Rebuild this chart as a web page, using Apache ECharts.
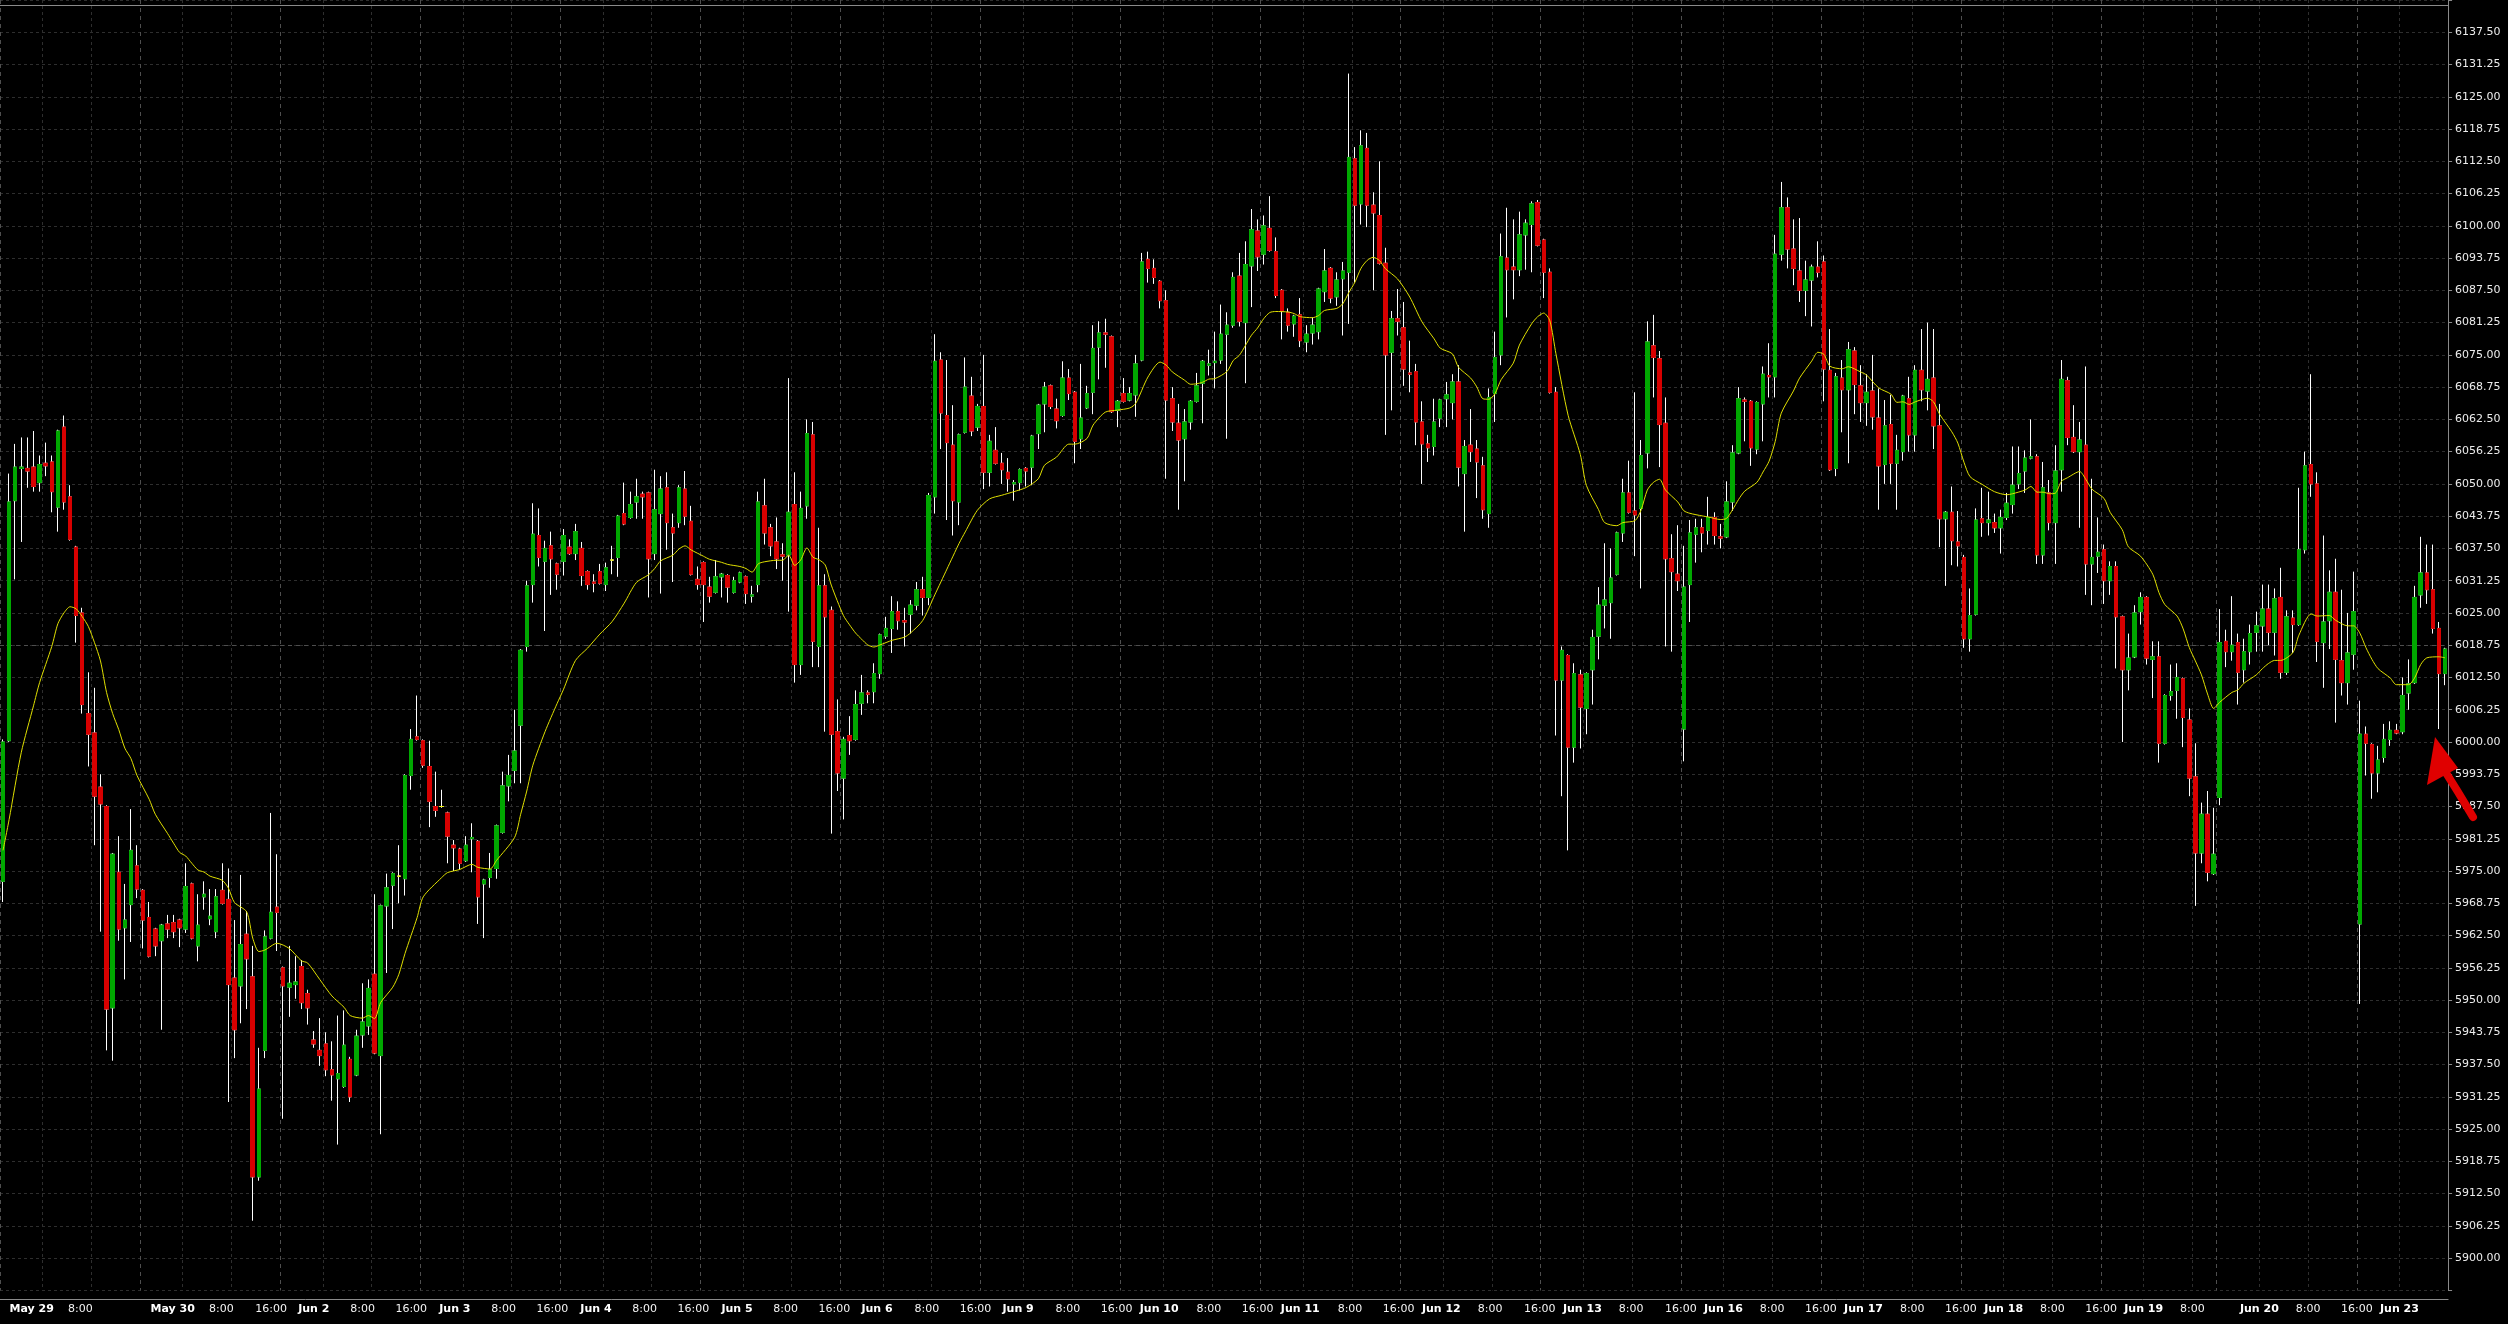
<!DOCTYPE html>
<html><head><meta charset="utf-8">
<script src="https://cdn.jsdelivr.net/npm/echarts@6/dist/echarts.min.js"></script>
<style>html,body{margin:0;padding:0;background:#000;}#c{width:2508px;height:1324px;}</style>
</head><body><div id="c"></div>
<script>
// ---------- session calendar (hourly bars) ----------
const tradingDays = ['May 29','May 30','Jun 2','Jun 3','Jun 4','Jun 5','Jun 6','Jun 9','Jun 10','Jun 11','Jun 12','Jun 13','Jun 16','Jun 17','Jun 18','Jun 19','Jun 20','Jun 23'];
const sessionOpenDates = ['May 28','May 29','Jun 1','Jun 2','Jun 3','Jun 4','Jun 5','Jun 8','Jun 9','Jun 10','Jun 11','Jun 12','Jun 15','Jun 16','Jun 17','Jun 18','Jun 19','Jun 22'];
const eveningHours = [16,17,18,19,20,21,22];
const dayHoursRegular = [0,1,2,3,4,5,6,7,8,9,10,11,12,13,14,15];
const dayHoursShort = {'Jun 19':[0,1,2,3,4,5,6,7,8,9,10,11], 'Jun 23':[0,1,2,3,4,5,6,7]};
const unlabeledOpens = ['May 28','May 29','Jun 19'];
const hourTickLabels = {8:'8:00', 16:'16:00'};

// ---------- OHLC values ----------
const open = [
5973,6000.25,6046.75,6053,6053,6053.25,6050.25,6054,6054.25,6045.5,
6061,6047.5,6037.75,6025,6005.5,6001.75,5991.25,5987.5,5948.5,5974.75,
5964,5968.5,5976,5971.25,5966,5963.75,5961.5,5964.75,5965,5965.5,
5963.75,5972.5,5960.5,5970,5965.75,5963.25,5971.25,5969.5,5954.25,5952.75,
5962.75,5954.5,5915.75,5940.25,5962,5968,5956.25,5952.5,5953,5956.5,
5951.25,5942.25,5940.25,5941.5,5936.5,5934.75,5933.25,5938.5,5935.5,5943.25,
5945,5955,5939.25,5968.25,5972.25,5974,5973.5,5993.5,6001,6000.25,
5995.25,5987.5,5987.5,5986.25,5980,5979.25,5977,5981.25,5980.75,5972.5,
5973.75,5975.5,5982.5,5991.5,5994.5,6003.25,6018.5,6030.5,6040,6035,
6038,6034.5,6035,6037.75,6036.5,6037.5,6033,6031,6033,6030.5,
6035.25,6035.75,6044.25,6043.5,6046.5,6048,6048.25,6036.5,6044.25,6049.25,
6041.5,6042.5,6049,6042.75,6031.5,6034.75,6030,6029,6032,6032.25,
6029,6031,6032,6028.25,6030.5,6045.75,6041.5,6038.75,6036.25,6036.25,
6046,6015,6045.75,6059.5,6018.5,6030.25,6025.5,6002,5993,6001.25,
6000.5,6007.5,6009.5,6009.75,6013.25,6020.5,6022,6025.25,6023.5,6024.75,
6026.5,6029.5,6028,6047.5,6074,6063.25,6057.5,6046.5,6060,6067,
6061,6065,6052.25,6056.5,6054,6052.25,6050,6050.25,6053,6053.25,
6059.75,6065.5,6069,6064.5,6063.25,6070.5,6067.75,6058.75,6064.75,6067.75,
6076.5,6079.25,6078.5,6064.25,6067.5,6066.25,6067.25,6074,6093.5,6091.75,
6089.25,6085.5,6066.5,6061.75,6058.75,6062,6066,6069.5,6073,6073.5,
6074,6079,6080.75,6090.25,6081.25,6092.25,6099,6094.5,6099.5,6095,
6087.5,6083.25,6081,6082.75,6077.5,6079.25,6079.5,6087.25,6091.75,6086.25,
6089.75,6091,6113,6104.25,6115,6104,6102,6092.75,6075.5,6082,
6080.25,6071.5,6071.75,6062,6057.75,6057.25,6062.75,6066.5,6065.75,6069.75,
6052,6057.5,6056.75,6053.5,6044.25,6067.5,6075,6093.75,6092,6091.5,
6098.25,6100.25,6104.5,6097.25,6091,6067.75,6012,6016.75,5999,6013,
6006.5,6014,6020.5,6026.5,6027,6032.5,6040.5,6048.25,6044.75,6045.25,
6056,6076.75,6074.25,6061.75,6035.5,6032.5,6002.5,6030.5,6040.25,6041.5,
6041,6043.5,6039.75,6039.75,6046.5,6056,6066.25,6066,6056.75,6065.5,
6071,6070.75,6094.5,6103.5,6095.5,6091.25,6087.5,6089.5,6092,6093,
6072,6053,6070.5,6068.25,6075.75,6069,6065.75,6068,6062.75,6053.75,
6061.5,6054,6056.25,6066.5,6059.5,6072,6068,6070.5,6061.25,6043.25,
6044.5,6038.75,6035.75,6020,6024.75,6043.25,6042.5,6042.5,6041.5,6043.5,
6046,6050,6052.5,6055,6055.25,6036.25,6048.25,6042.5,6052.75,6070,
6059,6056.25,6057.5,6034.5,6036,6037.25,6031.25,6034,6024.25,6014,
6016.5,6025.25,6028,6016,6016.5,5999.75,6009,6010,6012.25,6004.25,
5993.25,5978.5,5986,5974.5,5989.25,6019.5,6017.5,6019.25,6014,6017.5,
6021.25,6022.5,6025.75,6021.25,6028,6013.5,6024,6022.75,6037.25,6053.75,
6050,6019.25,6023.5,6029,6015.75,6011.5,6017,5964.75,6001.5,5999.5,
5994,5997,6000.5,6002.25,6002,6009.5,6011.5,6028.5,6032.75,6029.5,
6022,6013.25];
const close = [
6000,6046.5,6053.25,6053.25,6052.5,6049.5,6053.75,6053.5,6048.5,6060.25,
6046.5,6039.25,6024.5,6007.25,6001.5,5989.5,5988,5948.25,5978.25,5963.75,
5965.5,5979,5971.5,5965.5,5958.5,5960.5,5964.5,5963.75,5963.25,5964,
5972,5962,5964.5,5970.5,5966.25,5970,5968.75,5953,5944.25,5960.75,
5958,5915.75,5932.75,5962.25,5967,5967,5952.75,5953.25,5953.5,5949.5,
5948.5,5941.5,5939.25,5936.5,5935.5,5935.75,5941.25,5931.25,5943,5945.75,
5952.25,5939.75,5968.25,5971.75,5974.5,5974,5993.5,6000.5,6000.5,5995.5,
5988.5,5986.75,5987.5,5981.75,5979.5,5976.5,5980,5981.5,5970,5973.25,
5975.25,5983.75,5991.5,5993.5,5998.25,6017.75,6030.25,6040.25,6035.75,6037.5,
6035.5,6032.5,6040,6036.5,6040.75,6032.25,6030.5,6030.75,6030.75,6033.75,
6035.25,6043.75,6042.25,6046,6047.5,6047.5,6035.5,6045,6049,6042.5,
6040.5,6049.25,6043.75,6032.5,6030.5,6030.5,6028.25,6032,6032.5,6030,
6031.25,6032.75,6028.75,6028.5,6046.5,6040.5,6038,6035.5,6036,6044.5,
6015,6045.25,6059.75,6019.5,6030.25,6024.25,6001.5,5994,6000.5,6000.25,
6007.25,6009.5,6009.25,6013.25,6020.75,6022,6025.25,6023.5,6023.25,6026.5,
6029.5,6028,6047.75,6073.75,6063.75,6058,6046.75,6059.5,6068.75,6060.25,
6065,6052.25,6058.25,6054,6052.75,6051,6050.25,6052.75,6052.5,6059.25,
6065.25,6068.75,6065,6062.25,6070.5,6067.5,6058.25,6062.75,6067.5,6076.25,
6079.25,6079,6064,6066,6066,6067.5,6073.25,6093,6091.75,6090,
6085.5,6066.25,6062,6058.5,6062,6066,6069,6073.75,6073.25,6073.75,
6079,6080.75,6090,6081.5,6092.5,6099.25,6094,6100,6095.25,6086.5,
6083.5,6080.75,6082.5,6077.75,6079,6080.75,6087.75,6091.25,6086,6089.5,
6091.25,6113.25,6104,6115.5,6104,6102.5,6092.75,6075,6082,6081.5,
6072.25,6071.25,6062,6057.75,6057,6062,6066.25,6067.25,6069.75,6053.25,
6057.25,6056.25,6054.25,6045,6066.75,6074.5,6094,6091.5,6091.5,6098.25,
6100.5,6104.25,6096.25,6091,6067.75,6012,6017.75,5999,6013.25,6006.75,
6013.25,6020.25,6026.5,6027.5,6031.75,6040.5,6048.25,6044.5,6044,6055.5,
6077.5,6074.5,6061.5,6035.5,6033,6031.25,6030,6040.5,6041.5,6040.5,
6043.5,6040,6039.5,6046.5,6056,6066.5,6066,6057,6065.75,6071.25,
6070.75,6094.5,6103.5,6095.5,6091.75,6087.5,6089.5,6092,6091,6072.25,
6052.75,6070.75,6068.25,6076,6069.25,6065.75,6067.75,6063,6053.5,6061.25,
6054,6056.5,6067,6059.5,6072,6068.25,6070.25,6061.25,6043.25,6044.5,
6039,6038,6020,6024.5,6043,6042.5,6043,6041.5,6043.5,6046.25,
6049.75,6052,6055,6055.25,6036.25,6049.25,6042.5,6052.5,6070.25,6059,
6056.25,6058.5,6034.5,6035.75,6036.75,6031.25,6034,6024.25,6014,6016.25,
6025,6028,6016.25,6016.5,5999.75,6009,6009.75,6012.5,6004.75,5993,
5978.5,5986,5974.75,5978.25,6019.25,6017.5,6018.75,6013.5,6017.5,6021,
6022.5,6025.75,6021.25,6027.75,6013.5,6024.25,6022.75,6037.25,6053.5,6050,
6019.5,6023.25,6029,6016,6011.5,6017.25,6025.25,6001.5,5999.75,5994,
5996.5,6000.5,6002.25,6001.75,6009,6011.25,6028,6032.75,6029.5,6022,
6013.25,6018];
const low = [
5969,6000,6031.5,6038.75,6049.25,6048.5,6048.5,6051.5,6044.5,6040.75,
6045,6039,6019.25,6005.5,5995.25,5980,5963.25,5940.25,5938.25,5961.5,
5954,5961.25,5969.75,5960,5958.25,5958.5,5944.25,5962,5962,5960.25,
5963,5961.75,5957.5,5967.5,5964.5,5962,5968.5,5930.25,5938.75,5945.5,
5948.25,5907.25,5915,5938.75,5961.75,5959.5,5927,5946.75,5950.25,5948.25,
5945.25,5940.75,5937.25,5935.25,5930.5,5922,5933,5930.25,5935.25,5940.75,
5943.25,5939.5,5924,5955.25,5963.75,5968.75,5970.25,5990.75,6000.25,5995,
5983.5,5985.5,5987.25,5976.5,5975,5975.25,5976.75,5974.75,5964.75,5962,
5971.75,5973.5,5982.25,5988.5,5992,5992,6017.5,6027,6034,6021.5,
6028.5,6029.5,6032.25,6036.25,6035.25,6030.25,6029.5,6029,6030.5,6029.25,
6032.5,6032,6042,6043.25,6043.25,6043.25,6028,6035.25,6028.75,6037.25,
6031,6041.5,6042,6032.25,6029.5,6023.25,6027,6028.75,6028,6027,
6028.75,6030.75,6026.75,6027,6029,6038.25,6036,6033.5,6031.25,6025.25,
6011.5,6013,6043.25,6014.5,6014.5,6002,5982.25,5990.5,5985,5997.5,
6000.25,6005.25,6007.5,6007.5,6012.25,6020,6017.25,6021.75,6018.5,6021,
6025.5,6024.5,6026.5,6044.25,6056.75,6043,6040,6042,6059.75,6059.25,
6060.25,6049,6049.5,6053.75,6050,6048.5,6046.75,6048.75,6049.5,6049.75,
6056.75,6060,6064.5,6060.75,6063,6066.25,6054,6056.75,6064.5,6063.5,
6070.25,6072.5,6063.75,6061,6065.75,6066,6063,6073.75,6089,6088.75,
6084,6051,6060.25,6045,6050.5,6060.5,6065.75,6061.75,6071,6068.5,
6073.25,6058.75,6080.25,6080.5,6069.5,6084.25,6091.25,6092.5,6095,6086,
6078,6079.5,6078.5,6076.5,6075.5,6077,6078,6085.25,6085,6084.5,
6078.75,6081,6089,6100.25,6099.75,6087.5,6092.5,6059.5,6064.25,6078.75,
6069,6067.75,6057.5,6050,6054.25,6055.5,6061,6061,6062.5,6049.5,
6040.75,6054.25,6047.25,6043.25,6041.5,6062,6073,6082.25,6085.75,6090.25,
6091.5,6091,6096,6086,6067.5,6001.25,5989.5,5979,5996,5998.75,
6001.5,6007.25,6016,6022,6020,6032.25,6038.75,6044.25,6036,6029.75,
6053,6066.75,6053.25,6018.5,6017.5,6029.25,5996.25,6023.25,6034.75,6036.75,
6038.25,6038.25,6037.5,6039.5,6044.75,6055.75,6058.25,6053.5,6055.75,6058.25,
6066.75,6066.75,6093.25,6091.75,6088.5,6085.25,6082.5,6080.5,6090,6066,
6052.5,6051.5,6060,6054,6063.5,6062,6061.25,6060.5,6045,6050,
6050,6045,6054.5,6056.25,6056.25,6066,6064.25,6056.75,6037.75,6030.25,
6034.25,6034,6018.25,6017.5,6024.5,6039.75,6040,6040.5,6036.5,6043,
6044.25,6049,6048.25,6054.75,6034.5,6034.5,6041,6034.5,6048.5,6057.5,
6056,6041.5,6028.5,6026.5,6032.75,6026.75,6028.5,6014.25,6000,6010,
6016.25,6022.75,6015,6008.5,5996,5999.5,6008,6004.5,5999,5989.5,
5968.25,5976.5,5973,5974.25,5987.75,6014.5,6015.75,6007.25,6011.5,6015,
6017.5,6017.5,6018.75,6016.75,6012.25,6013,6017.25,6022.5,6036.5,6047.5,
6015.5,6010.5,6018,6003.75,6009,6007.25,6014,5949.25,5993.5,5989,
5990.25,5996,5999.25,6001.5,6001.5,6006.25,6011.25,6026,6026.75,6021,
6002.5,6011];
const high = [
6000.5,6052,6057.75,6059,6059,6060.25,6055.5,6058,6055.5,6060.5,
6063.25,6049.75,6038,6026,6013.5,6010.5,5993.75,5987.75,5978.5,5981.75,
5972.5,5987,5980,5971.5,5969,5964,5964.75,5966.5,5966.5,5965.75,
5976.5,5972.75,5970.5,5973,5971.5,5971.5,5976.5,5975.5,5965.5,5974.25,
5967.25,5960.5,5940.75,5963.5,5986.25,5978.25,5956.5,5960.5,5958.5,5957.75,
5952,5944,5946.5,5943.75,5942,5947,5948,5939,5944.25,5953.25,
5954,5970.5,5968.5,5974.5,5974.75,5980,5993.75,6002.5,6009,6000.5,
6000.25,5994.25,5990.75,5986.5,5981,5979.5,5981.75,5984.25,5981,5973.5,
5978.5,5984,5994.25,5997.5,6006.25,6018,6031.25,6046.25,6045.25,6039,
6040.75,6034.75,6041.25,6039.25,6042.25,6038.75,6033.25,6032.5,6034.5,6034.75,
6038,6044,6050.25,6048.5,6051,6048.5,6048.5,6052.75,6051.5,6052.25,
6044.25,6049.75,6052.5,6045.75,6034,6035,6032,6035.25,6032.75,6032.5,
6032,6033,6032.25,6030.25,6048.5,6051,6042.25,6043.5,6038.5,6070.5,
6052.25,6048.5,6062.5,6062,6041.5,6032.5,6026.25,6008.25,6001,6005,
6010,6013,6010,6015.25,6021,6024.25,6028.25,6027.25,6026,6027.5,
6031,6032,6048.25,6079,6075.5,6074,6065.25,6059.75,6074.5,6070.75,
6065.5,6075,6059.5,6061,6056,6055,6050.75,6053,6053.25,6059.5,
6065.5,6069.75,6069.25,6066.5,6073.75,6072.25,6068,6073.25,6069,6080.75,
6081.5,6082,6078.75,6066.25,6070.5,6068.75,6075,6094.75,6095,6093.5,
6089.5,6087.5,6068.75,6065.5,6064.5,6066.25,6071.5,6074,6076,6079.5,
6084.75,6083.25,6091,6094.75,6097,6103.25,6101.25,6102,6105.75,6097.75,
6087.75,6084,6082.75,6086,6080.75,6082.25,6088,6095.5,6092,6091,
6093,6129.5,6115.25,6118.5,6118,6106.5,6112.5,6095.75,6083.5,6087.75,
6085.25,6077.75,6073.25,6066,6059.5,6066.5,6066.5,6069.75,6071.25,6073,
6058.5,6064.5,6058.5,6055.25,6068.5,6079.5,6098.5,6103.5,6101.25,6102.75,
6101.25,6104.75,6105,6097.5,6091.75,6068.75,6018.5,6017,6015.25,6014,
6013.5,6021.75,6030,6038.5,6037.5,6040.75,6051,6054.5,6067.75,6058.5,
6081.5,6082.75,6075.75,6066.75,6040.25,6042,6038,6043,6043.25,6043.25,
6047.5,6044.5,6042.25,6050.5,6057.5,6068.75,6066.75,6066.25,6066,6072.75,
6077.25,6098.25,6108.5,6105.5,6101.25,6101.5,6093.25,6092.5,6097,6094.25,
6080,6071.5,6074,6077.5,6076.5,6073,6071.25,6075,6068.5,6066.25,
6067.25,6059.5,6067.25,6070.75,6073,6080,6081.25,6080,6065.5,6044.75,
6049.5,6044.75,6036.25,6029.75,6045.25,6049.25,6048.5,6044.25,6045,6048.25,
6057.25,6057.25,6056.5,6062.5,6055.75,6054.25,6050.75,6057.5,6074,6070.75,
6065.25,6062,6072.75,6051,6043.5,6038.25,6035,6035,6024.5,6021,
6026.5,6029,6028.25,6019.5,6019.5,6009.25,6015,6015.25,6012.5,6006.5,
5999.75,5988.25,5990.5,5987.25,6025.75,6021.75,6028.25,6021,6020,6022.75,
6025.25,6030.5,6030.5,6029.75,6033.75,6025.5,6025.5,6049.25,6056.25,6071.25,
6052.25,6040,6033.25,6035.5,6029.5,6025,6033,6008,6003,5999.75,
5999.25,6003.5,6004,6003.5,6012.5,6016,6030.25,6039.75,6038.25,6038.25,
6023.25,6018.25];

// ---------- moving average: [bar index, value] ----------
const maPoints = [
[0,5979],[1,5985],[3,5998],[5,6007],[6,6011.5],[8,6018.5],[9,6022.9],[10,6025],[11,6026.2],[12,6025.8],[13,6024.3],[14,6022.4],[15,6019.3],[16,6015.7],[17,6009.6],[18,6005.5],[19,6002.4],[20,5998.8],[21,5996.8],[22,5993.5],[24,5988.9],[25,5986],[27,5982.3],[28,5980.4],[29,5978.6],[30,5977.9],[31,5976.5],[32,5975.2],[33,5974.8],[34,5974],[36,5973.2],[37,5971.7],[38,5968.9],[40,5967.1],[41,5962],[42,5959.4],[43,5959.7],[45,5961],[47,5960],[49,5957.6],
[50,5957.2],[52,5954],[54,5950.8],[56,5948.6],[57,5947],[59,5946.5],[60,5947],[61,5946.4],[62,5949.5],[64,5952.5],[65,5955],[66,5959],[68,5966],[69,5970],[72,5973.7],[73,5974.7],[75,5975.3],[77,5976.3],[78,5975.7],[80,5975.4],[81,5977],[84,5981.5],[85,5986],[86,5990.5],[87,5995.5],[89,6002],[91,6007.5],[92,6010.1],[94,6015.8],[96,6018.2],[98,6020.9],
[100,6023.3],[102,6026.9],[104,6030.9],[106,6032.4],[107,6033.6],[108,6035.1],[110,6036.2],[111,6037.4],[112,6038],[113,6037.2],[115,6036],[116,6035.4],[118,6034.8],[119,6034.4],[121,6034],[122,6033.6],[123,6032.9],[124,6034.5],[125,6034.9],[127,6035.2],[128,6035.2],[129,6036.2],[130,6034.2],[131,6035.3],[132,6037.6],[133,6035.8],[134,6035.3],[135,6034.3],[136,6030.4],[138,6024.5],[139,6022.7],[140,6021.1],[141,6019.9],[142,6018.8],[143,6018.4],[144,6018.8],[146,6019.7],[148,6020.3],[149,6021.1],
[151,6023.5],[153,6028.5],[155,6033.5],[157,6038.5],[158,6040.7],[160,6044.9],[162,6047.1],[164,6047.8],[166,6048.5],[168,6049.3],[170,6051],[171,6053.6],[173,6055.2],[175,6057.7],[176,6057.7],[178,6058.8],[179,6061.4],[181,6063.9],[183,6064.3],[185,6064.7],[186,6065.6],[188,6070.7],[190,6073.6],[191,6073],[192,6071.7],[194,6070.1],[195,6069.3],[196,6069.4],[197,6069.7],[198,6070.3],
[199,6070.4],[201,6071.8],[202,6073.9],[203,6074.9],[204,6076.8],[205,6078.8],[206,6080.2],[207,6082],[208,6083.2],[209,6083.4],[211,6083.3],[212,6083],[213,6082.4],[215,6082.2],[216,6082.6],[217,6083.6],[219,6084],[220,6084.9],[221,6087.1],[222,6089.1],[223,6091.8],[224,6093.3],[225,6093.9],[226,6093.3],[227,6091.7],[229,6089.7],[231,6086.2],[233,6081.4],[235,6078.1],[236,6076.3],[238,6075.2],[239,6072.6],[241,6070.5],[242,6068.8],[243,6066.5],[244,6066.4],[245,6067.5],[246,6070.2],[248,6073.4],
[249,6076.9],[251,6081],[252,6082.4],[253,6083.1],[254,6081.6],[255,6075.2],[257,6063.3],[259,6055.7],[260,6049.7],[262,6045],[263,6042.5],[265,6041.9],[266,6042.5],[268,6042.9],[269,6045],[270,6048.8],[271,6050.3],[272,6050.9],[273,6048.8],[275,6046.5],[276,6044.8],[277,6044.3],[279,6043.8],[280,6043.6],[282,6043.1],[283,6043.3],[284,6045],[285,6047],[286,6048.6],[288,6050.3],[289,6052.3],[290,6054.4],[291,6058.2],[292,6063.7],[294,6068],[295,6070.5],
[297,6073.8],[298,6075.5],[299,6075.1],[300,6072.8],[302,6072.3],[303,6072.7],[305,6071.7],[306,6071.1],[308,6068.6],[310,6067.4],[311,6065.8],[312,6065.9],[313,6065.4],[314,6065.9],[316,6066.6],[317,6065.9],[318,6063.5],[320,6060.1],[321,6057.9],[322,6054.2],[323,6051.4],[325,6049.9],[327,6048.5],[329,6047.9],[330,6048.1],[332,6048.8],[333,6049.5],[334,6048.4],[335,6048.4],[336,6048.1],[337,6048.2],[338,6050.5],[339,6051.2],[341,6052.4],[342,6050.9],[343,6049],[345,6047.2],[346,6044.5],
[348,6041.1],[349,6037.8],[351,6036],[353,6032.5],[354,6029],[355,6026.6],[357,6024.4],[358,6021.9],[359,6018.3],[360,6015.7],[361,6013],[362,6009.3],[363,6006.5],[364,6007.7],[366,6009.6],[367,6010.1],[368,6011.4],[370,6013],[371,6014.2],[372,6015.2],[373,6015.8],[374,6015.8],[376,6017.3],[377,6020.7],[379,6024.8],[380,6024.4],[382,6024.5],[383,6023.6],[385,6022.5],[386,6022.5],[387,6021.1],[388,6018.3],[389,6016],[390,6014.2],[392,6012.4],[393,6011.1],[395,6011.1],[396,6012.4],[397,6015],[398,6016.3],[400,6016.5],[401,6016.3]
];

// ---------- y axis range / ticks ----------
const priceMin = 5893.75, priceMax = 6143.75, priceStep = 6.25;
const labelMin = 5900, labelMax = 6137.5;
const referenceLevel = 6018.75;

// ---------- build categories and tick labels ----------
const pad2 = h => (h < 10 ? '0' : '') + h + ':00';
const times = [], tickText = [], sessionOpenIdx = new Set(), dimIdx = new Set();
// labels in the source drift slightly left of their ticks on the older part of the axis
const labelShift = i => Math.max(0, Math.round(11 * (283 - i) / 276));
tradingDays.forEach((day, k) => {
  const eve = sessionOpenDates[k];
  eveningHours.forEach(h => {
    const i = times.length;
    if (h === 16) {
      sessionOpenIdx.add(i);
      tickText[i] = unlabeledOpens.includes(eve) ? null : '{t' + labelShift(i) + '|' + hourTickLabels[16] + '}';
    }
    times.push(eve + ' ' + pad2(h));
  });
  (dayHoursShort[day] || dayHoursRegular).forEach(h => {
    const i = times.length;
    if (h === 0) { dimIdx.add(i); tickText[i] = '{d' + labelShift(i) + '|' + day + '}'; }
    if (h === 8) { dimIdx.add(i); tickText[i] = '{t' + labelShift(i) + '|' + hourTickLabels[8] + '}'; }
    times.push(day + ' ' + pad2(h));
  });
});
const rich = {};
for (let s = 0; s <= 12; s++) {
  const p = 2 * (3 + s);
  rich['d' + s] = { color: '#ffffff', fontFamily: 'DejaVu Sans', fontSize: 11, fontWeight: 'bold', padding: [0, p, 0, 0] };
  rich['t' + s] = { color: '#f4f4f4', fontFamily: 'DejaVu Sans', fontSize: 11, padding: [0, p, 0, 0] };
}

const BG = '#000000', GRID = '#2e2e2e', GRID_BRIGHT = '#4e4e4e', AXIS = '#8a8a8a';
const UP = '#00a800', DOWN = '#d80000', WICK = '#ffffff', DOJI = '#f0f000', MA = '#e0e000';

const wickData = open.map((o, i) => [o, close[i], low[i], high[i]]);
const bodyData = open.map((o, i) => {
  const c = close[i];
  const v = [o, c, Math.min(o, c), Math.max(o, c)];
  if (o === c) return { value: v, itemStyle: { color: DOJI, color0: DOJI, borderColor: DOJI, borderColor0: DOJI } };
  return v;
});

const chart = echarts.init(document.getElementById('c'), null, { renderer: 'canvas' });
chart.setOption({
  animation: false,
  backgroundColor: BG,
  grid: { left: -2.9, right: 59.9, top: -2.8, bottom: 33.6, containLabel: false },
  xAxis: [{
    type: 'category', data: times, boundaryGap: true, offset: 9,
    axisLine: { show: true, lineStyle: { color: AXIS, width: 1 } },
    axisTick: { show: false },
    axisLabel: {
      show: true, interval: (i) => tickText[i] != null, formatter: (v, i) => tickText[i] || '',
      margin: 4, rich: rich
    },
    splitLine: { show: true, interval: (i) => dimIdx.has(i), lineStyle: { color: GRID, type: [3, 3], width: 1 } }
  }, {
    type: 'category', data: times, boundaryGap: true, gridIndex: 0,
    axisLine: { show: false }, axisTick: { show: false }, axisLabel: { show: false },
    splitLine: { show: true, interval: (i) => sessionOpenIdx.has(i), lineStyle: { color: GRID_BRIGHT, type: [4, 4], width: 1 } }
  }],
  yAxis: [{
    type: 'value', position: 'right', min: priceMin, max: priceMax, interval: priceStep,
    axisLine: { show: true, lineStyle: { color: AXIS } },
    axisTick: { show: true, length: 4, lineStyle: { color: AXIS } },
    axisLabel: {
      margin: 7, color: '#ececec', fontFamily: 'DejaVu Sans', fontSize: 11,
      formatter: v => (v < labelMin - 0.01 || v > labelMax + 0.01) ? '' : v.toFixed(2)
    },
    splitLine: { show: true, lineStyle: { color: GRID, type: [3, 3], width: 1 } }
  }, {
    type: 'value', position: 'right', min: priceMin, max: priceMax, interval: referenceLevel - priceMin,
    axisLine: { show: false }, axisTick: { show: false }, axisLabel: { show: false },
    splitLine: { show: true, lineStyle: { color: ['rgba(0,0,0,0)', GRID_BRIGHT, 'rgba(0,0,0,0)'], type: [4, 4], width: 1 } }
  }],
  series: [{
    name: 'wicks', type: 'candlestick', data: wickData, barWidth: 4, z: 2, silent: true, clip: false,
    itemStyle: { color: 'rgba(0,0,0,0)', color0: 'rgba(0,0,0,0)', borderColor: WICK, borderColor0: WICK, borderWidth: 1 }
  }, {
    name: 'bodies', type: 'candlestick', data: bodyData, barWidth: 4, z: 3, silent: true, clip: false,
    itemStyle: { color: UP, color0: DOWN, borderColor: UP, borderColor0: DOWN, borderWidth: 1 }
  }, {
    name: 'MA', type: 'line', data: maPoints, showSymbol: false, smooth: 0.25, z: 4, silent: true,
    lineStyle: { color: MA, width: 1 }
  }],
  graphic: [
    { type: 'line', silent: true, z: 10, shape: { x1: 0, y1: 5.5, x2: 2448, y2: 5.5 }, style: { stroke: AXIS, lineWidth: 1 } },
    { type: 'polyline', silent: true, z: 100, shape: { points: [[2443, 768], [2458, 792], [2473, 817]] }, style: { stroke: '#e00000', lineWidth: 8, lineCap: 'round', fill: null } },
    { type: 'polygon', silent: true, z: 100, shape: { points: [[2435, 737], [2427, 785], [2458, 768]] }, style: { fill: '#e00000' } }
  ]
});
</script></body></html>
